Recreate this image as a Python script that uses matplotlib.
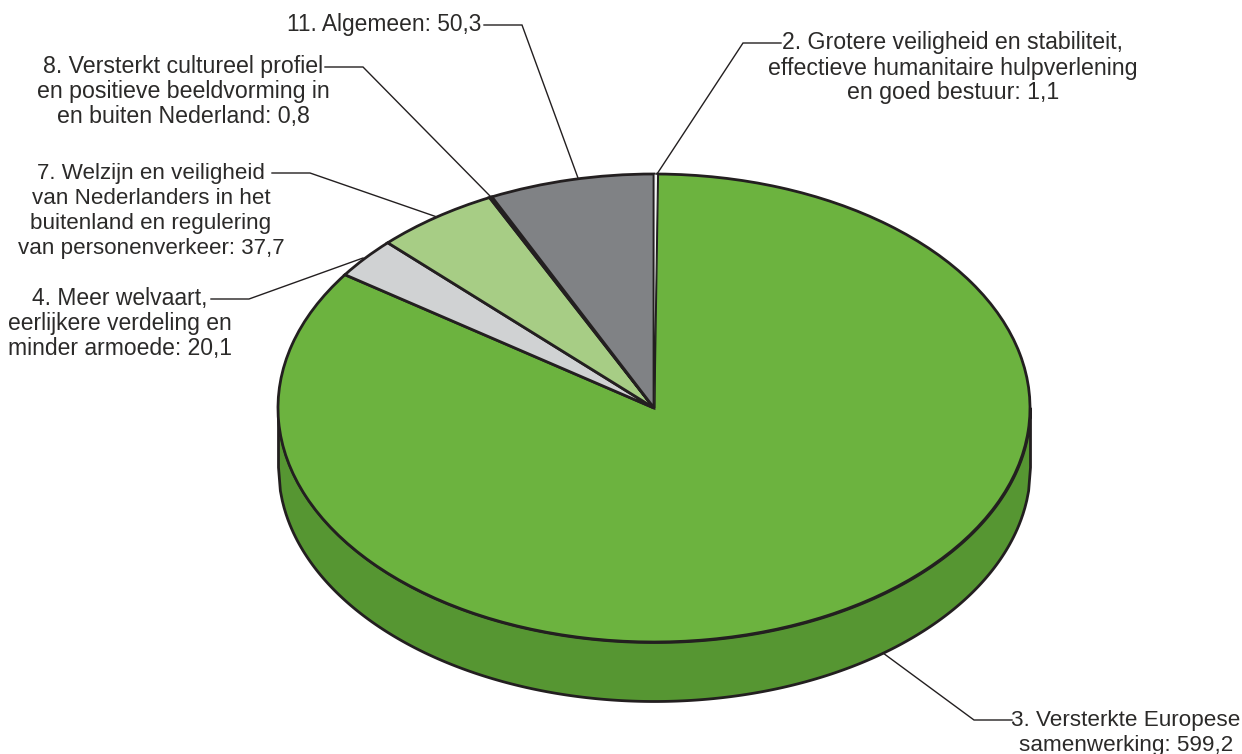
import numpy as np
import matplotlib
matplotlib.use('Agg')
import matplotlib.pyplot as plt
from matplotlib.transforms import Affine2D

WIDTH, HEIGHT = 1242, 754
# pie geometry in pixels of the picture
CX, CY = 654, 408
RX, RY = 376, 234
DEPTH = 59 / RY
LINE_STEP = 25

labels = [
    ['2. Grotere veiligheid en stabiliteit,', 'effectieve humanitaire hulpverlening', 'en goed bestuur: 1,1'],
    ['3. Versterkte Europese', 'samenwerking: 599,2'],
    ['4. Meer welvaart,', 'eerlijkere verdeling en', 'minder armoede: 20,1'],
    ['7. Welzijn en veiligheid', 'van Nederlanders in het', 'buitenland en regulering', 'van personenverkeer: 37,7'],
    ['8. Versterkt cultureel profiel', 'en positieve beeldvorming in', 'en buiten Nederland: 0,8'],
    ['11. Algemeen: 50,3'],
]
values = [1.1, 599.2, 20.1, 37.7, 0.8, 50.3]
colors = ['#f1f2f2', '#6cb33f', '#d0d2d3', '#a7cd85', '#a7cd85', '#808285']
wall_color = '#569632'
edge = '#231f20'
text_color = '#2b2a29'

# centre x and first baseline of each text block
label_pos = [(953, 49.5), (1126, 726), (119.5, 305), (151, 179), (183, 73), (384.5, 31)]
# font size of each block, the lines differ a little in width from the original face
label_size = [16.7, 16.2, 16.5, 16.1, 16.7, 16.4]
# leader lines, from the text to the pie
leaders = [
    [(781, 43), (743, 43), (657, 174)],
    [(1012, 720), (974, 720), (883, 653)],
    [(211, 299), (249, 299), (363, 258)],
    [(272, 173), (310, 173), (437, 217)],
    [(325, 67), (363, 67), (491, 197)],
    [(484, 25), (522, 25), (578, 178)],
]

plt.rcParams['font.family'] = ['Liberation Sans', 'DejaVu Sans']

fig = plt.figure(figsize=(WIDTH / 100, HEIGHT / 100), dpi=100, facecolor='white')
ax = fig.add_axes([0, 0, 1, 1])

# side of the disc
xs = np.linspace(-1, 1, 400)
low = -np.sqrt(1 - xs ** 2)
ax.fill_between(xs, low, low - DEPTH, color=wall_color, edgecolor=edge, linewidth=2, zorder=1)

wedges, _ = ax.pie(values, colors=colors, startangle=90, counterclock=False, radius=1,
                   wedgeprops={'edgecolor': edge, 'linewidth': 2, 'zorder': 2})
# thin slice at the top stays visible between its edges
wedges[0].set_linewidth(0.8)
wedges[0].set_zorder(3)

# unit circle becomes the ellipse of the picture
ax.set_aspect('auto')
ax.set_xlim((0 - CX) / RX, (WIDTH - CX) / RX)
ax.set_ylim((CY - HEIGHT) / RY, CY / RY)
ax.axis('off')

px = Affine2D().scale(1 / WIDTH, -1 / HEIGHT).translate(0, 1) + fig.transFigure

for pts in leaders:
    ax.plot([p[0] for p in pts], [p[1] for p in pts], color=edge, linewidth=1,
            transform=px, zorder=3, clip_on=False, solid_joinstyle='miter')

for lines, (x, y), size in zip(labels, label_pos, label_size):
    for i, line in enumerate(lines):
        ax.text(x, y + i * LINE_STEP, line, transform=px, ha='center', va='baseline',
                fontsize=size, color=text_color, zorder=4)

fig.savefig('out.png', dpi=100)
